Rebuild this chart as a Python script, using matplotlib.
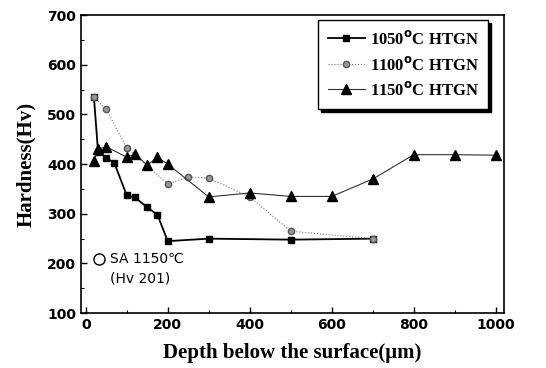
import numpy as np
import matplotlib
matplotlib.use("Agg")
import matplotlib.pyplot as plt
from matplotlib.ticker import MultipleLocator

# data
depth_1050 = [20, 30, 50, 70, 100, 120, 150, 175, 200, 300, 500, 700]
hv_1050 = [535, 425, 413, 402, 337, 333, 313, 298, 245, 250, 248, 250]

depth_1100 = [20, 50, 100, 200, 250, 300, 400, 500, 700]
hv_1100 = [535, 510, 433, 360, 374, 372, 334, 265, 250]

depth_1150 = [20, 30, 50, 100, 120, 150, 175, 200, 300, 400, 500, 600, 700, 800, 900, 1000]
hv_1150 = [407, 430, 435, 414, 420, 398, 414, 400, 334, 342, 335, 335, 370, 419, 419, 418]

labels = ["1050$^{\\mathbf{o}}$C HTGN", "1100$^{\\mathbf{o}}$C HTGN", "1150$^{\\mathbf{o}}$C HTGN"]

fig = plt.figure(figsize=(5.46, 3.68), dpi=100)
ax = fig.add_axes([0.148, 0.149, 0.775, 0.81])

ax.plot(depth_1050, hv_1050, color="black", lw=1.3, marker="s", ms=5, label=labels[0])
ax.plot(depth_1100, hv_1100, color="#777777", lw=0.8, ls=":", marker="o", ms=4.5,
        mfc="#999999", mec="#555555", label=labels[1])
ax.plot(depth_1150, hv_1150, color="#333333", lw=0.8, marker="^", ms=6.5,
        mfc="black", mec="black", label=labels[2])

# solution annealed reference
ax.plot([33], [210], marker="o", ms=8, mfc="white", mec="black", ls="none")
ax.text(60, 210, "SA 1150\u2103", fontsize=10, va="center", family="DejaVu Sans")
ax.text(60, 170, "(Hv 201)", fontsize=10, va="center", family="DejaVu Sans")

ax.set_xlim(-12, 1020)
ax.set_ylim(100, 700)
ax.xaxis.set_major_locator(MultipleLocator(200))
ax.xaxis.set_minor_locator(MultipleLocator(100))
ax.yaxis.set_major_locator(MultipleLocator(100))
ax.yaxis.set_minor_locator(MultipleLocator(50))
ax.tick_params(which="both", direction="in", top=False, right=False)
ax.tick_params(which="major", length=4, width=1)
ax.tick_params(which="minor", length=2, width=0.8)
for lab in ax.get_xticklabels() + ax.get_yticklabels():
    lab.set_fontweight("heavy")
    lab.set_fontsize(10)
    lab.set_family("DejaVu Sans")
for s in ax.spines.values():
    s.set_linewidth(1.2)

ax.set_xlabel("Depth below the surface(\u03bcm)", fontsize=15, fontweight="bold",
              family="Liberation Serif", labelpad=8)
ax.set_ylabel("Hardness(Hv)", fontsize=15, fontweight="bold", family="Liberation Serif",
              labelpad=8)

leg = ax.legend(loc="upper right", frameon=True, fancybox=False,
                shadow={"color": "black", "alpha": 1},
                edgecolor="black", prop={"family": "Liberation Serif", "weight": "bold", "size": 12},
                handlelength=2.2, borderpad=0.6, labelspacing=0.45, handletextpad=0.3,
                borderaxespad=0.3, bbox_to_anchor=(0.975, 1.0))
leg.get_frame().set_linewidth(1.0)

fig.savefig("out.png", dpi=100)
